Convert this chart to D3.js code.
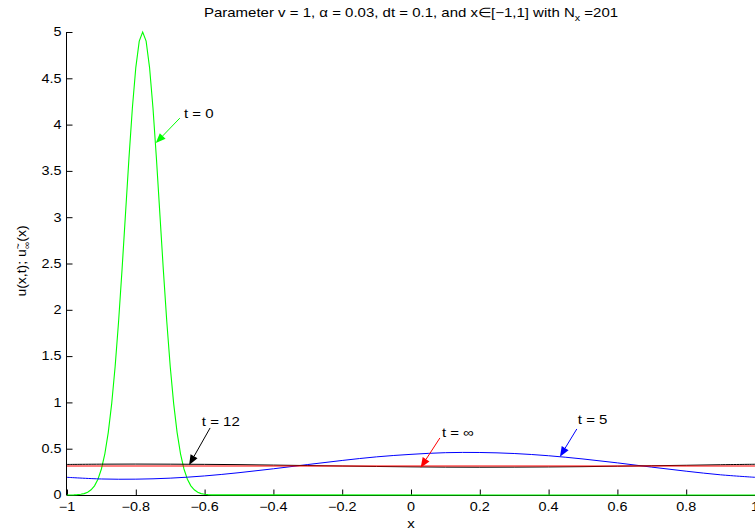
<!DOCTYPE html>
<html><head><meta charset="utf-8">
<script src="https://cdn.jsdelivr.net/npm/d3@7"></script>
<style>
html,body{margin:0;padding:0;background:#fff;}
svg{display:block;}
text{font-family:"Liberation Sans",Arial,Helvetica,sans-serif;fill:#000;}
</style></head>
<body>
<script>
// ---- data ----
const greenX = [-1, -0.98, -0.97, -0.96, -0.95, -0.94, -0.93, -0.92, -0.91, -0.90, -0.89, -0.88, -0.87, -0.86, -0.85, -0.84, -0.83, -0.82, -0.81, -0.80, -0.79, -0.78,
  -0.77, -0.76, -0.75, -0.74, -0.73, -0.72, -0.71, -0.70, -0.69, -0.68, -0.67, -0.66, -0.65, -0.64, -0.63, -0.62, -0.61, -0.60, -0.59, -0.58, 1];
const greenY = [0, 0.001, 0.004, 0.008, 0.015, 0.030, 0.056, 0.099, 0.170, 0.281, 0.445, 0.677, 0.990, 1.390, 1.877, 2.434, 3.033, 3.631, 4.176, 4.616, 4.901, 5.0,
  4.901, 4.616, 4.176, 3.631, 3.033, 2.434, 1.877, 1.390, 0.990, 0.677, 0.445, 0.281, 0.170, 0.099, 0.056, 0.030, 0.015, 0.008, 0.004, 0.001, 0];

const gridX = [-1, -0.9, -0.8, -0.7, -0.6, -0.5, -0.4, -0.3, -0.2, -0.1, 0, 0.1, 0.2, 0.3, 0.4, 0.5, 0.6, 0.7, 0.8, 0.9, 1];
const blueY = [0.191, 0.173, 0.171, 0.182, 0.206, 0.241, 0.283, 0.329, 0.373, 0.412, 0.439, 0.457, 0.459, 0.448, 0.424, 0.389, 0.347, 0.301, 0.257, 0.218, 0.191];
const blackY = [0.330, 0.333, 0.334, 0.333, 0.331, 0.328, 0.323, 0.318, 0.313, 0.308, 0.304, 0.301, 0.300, 0.301, 0.303, 0.306, 0.311, 0.316, 0.321, 0.327, 0.332];
const redY = [0.313, 0.313, 0.313, 0.313, 0.313, 0.313, 0.313, 0.313, 0.313, 0.313, 0.313, 0.313, 0.313, 0.313, 0.313, 0.313, 0.313, 0.313, 0.313, 0.313, 0.313];

const xTicks = [-1, -0.8, -0.6, -0.4, -0.2, 0, 0.2, 0.4, 0.6, 0.8, 1];
const xTickLabels = ["\u22121", "\u22120.8", "\u22120.6", "\u22120.4", "\u22120.2", "0", "0.2", "0.4", "0.6", "0.8", "1"];
const yTicks = [0, 0.5, 1, 1.5, 2, 2.5, 3, 3.5, 4, 4.5, 5];
const yTickLabels = ["0", "0.5", "1", "1.5", "2", "2.5", "3", "3.5", "4", "4.5", "5"];

// annotations: label, colour, tail (x,y), tip (x,y), text anchor (x,y) in data units
const annLabels = ["t = 0", "t = 12", "t = \u221E", "t = 5"];
const annColors = ["#00ff00", "#000000", "#ff0000", "#0000ff"];
const annTail = [[-0.672, 4.07], [-0.584, 0.724], [0.084, 0.616], [0.482, 0.713]];
const annTip = [[-0.742, 3.80], [-0.645, 0.324], [0.028, 0.295], [0.433, 0.414]];
const annText = [[-0.660, 4.125], [-0.608, 0.79], [0.090, 0.68], [0.485, 0.81]];

// ---- layout ----
const W = 755, H = 530;
const SX = 1.2; // horizontal text stretch of the reference
const FS = 12.5;
const x = d3.scaleLinear().domain([-1, 1]).range([67, 755]);
const y = d3.scaleLinear().domain([0, 5]).range([495, 32]);

const svg = d3.select("body").append("svg").attr("width", W).attr("height", H);
svg.append("rect").attr("width", W).attr("height", H).attr("fill", "#fff");

function txt(px, py, s, anchor, size) {
  return svg.append("text")
    .attr("transform", `translate(${px},${py}) scale(${SX},1)`)
    .attr("text-anchor", anchor || "start")
    .attr("font-size", size || FS)
    .text(s);
}

// axes
const xAxis = d3.axisBottom(x).tickValues(xTicks).tickSize(-6).tickPadding(0)
  .tickFormat((d, i) => xTickLabels[i]);
const gx = svg.append("g").attr("transform", "translate(0,495.5)").call(xAxis);
gx.select(".domain").attr("d", `M${x(-1)},0H${x(1)}`).attr("stroke", "#000");
gx.selectAll(".tick line").attr("stroke", "#000");
gx.selectAll(".tick text").remove();
xTicks.forEach((v, i) => txt(x(v), 510.5, xTickLabels[i], "middle", 12));

const yAxis = d3.axisLeft(y).tickValues(yTicks).tickSize(-6).tickPadding(0)
  .tickFormat((d, i) => yTickLabels[i]);
const gy = svg.append("g").attr("transform", "translate(66.5,0)").call(yAxis);
gy.select(".domain").attr("d", `M0,${y(5)}V${y(0)}`).attr("stroke", "#000");
gy.selectAll(".tick line").attr("stroke", "#000");
gy.selectAll(".tick text").remove();
yTicks.forEach((v, i) => txt(61.5, y(v) + 4.3, yTickLabels[i], "end", 12));

// curves
const lineLin = d3.line().x(d => x(d[0])).y(d => y(d[1]));
const lineSmooth = d3.line().x(d => x(d[0])).y(d => y(d[1])).curve(d3.curveCatmullRom);

svg.append("path").datum(greenX.map((v, i) => [v, greenY[i]]))
  .attr("d", lineLin).attr("fill", "none").attr("stroke", "#00ff00").attr("stroke-width", 1.1);
svg.append("path").datum(gridX.map((v, i) => [v, blueY[i]]))
  .attr("d", lineSmooth).attr("fill", "none").attr("stroke", "#0000ff").attr("stroke-width", 1);
svg.append("path").datum(gridX.map((v, i) => [v, blackY[i]]))
  .attr("d", lineSmooth).attr("fill", "none").attr("stroke", "#000").attr("stroke-width", 1);
svg.append("path").datum(gridX.map((v, i) => [v, redY[i]]))
  .attr("d", lineSmooth).attr("fill", "none").attr("stroke", "#ff0000").attr("stroke-width", 1.2);

// annotations
annLabels.forEach((lab, i) => {
  const x0 = x(annTail[i][0]), y0 = y(annTail[i][1]);
  const x1 = x(annTip[i][0]), y1 = y(annTip[i][1]);
  const dx = x1 - x0, dy = y1 - y0, len = Math.hypot(dx, dy);
  const ux = dx / len, uy = dy / len, nx = -uy, ny = ux;
  const L = 10, Wd = 4;
  const bx = x1 - L * ux, by = y1 - L * uy;
  svg.append("line").attr("x1", x0).attr("y1", y0).attr("x2", bx).attr("y2", by)
    .attr("stroke", annColors[i]).attr("stroke-width", 1);
  svg.append("path")
    .attr("d", `M${x1},${y1}L${bx + Wd * nx},${by + Wd * ny}L${bx - Wd * nx},${by - Wd * ny}Z`)
    .attr("fill", annColors[i]);
  txt(x(annText[i][0]), y(annText[i][1]) + 4.5, lab, "start", FS);
});

// title
const title = svg.append("text")
  .attr("transform", `translate(411,16.5) scale(${SX},1)`)
  .attr("text-anchor", "middle").attr("font-size", FS);
title.append("tspan").text("Parameter v = 1, \u03B1 = 0.03, dt = 0.1, and x\u2208[\u22121,1] with N");
title.append("tspan").attr("dy", 4).attr("font-size", 9).text("x");
title.append("tspan").attr("dy", -4).text(" =201");

// x label
txt(411, 528, "x", "middle", FS);

// y label
const yl = svg.append("text")
  .attr("transform", `translate(26,261) rotate(-90) scale(1.12,1)`)
  .attr("text-anchor", "middle").attr("font-size", FS);
yl.append("tspan").text("u(x,t); u");
yl.append("tspan").attr("dy", -5).attr("font-size", 9).text("~");
yl.append("tspan").attr("dx", -5).attr("dy", 9).attr("font-size", 9).text("\u221E");
yl.append("tspan").attr("dy", -4).text("(x)");
</script>
</body></html>
